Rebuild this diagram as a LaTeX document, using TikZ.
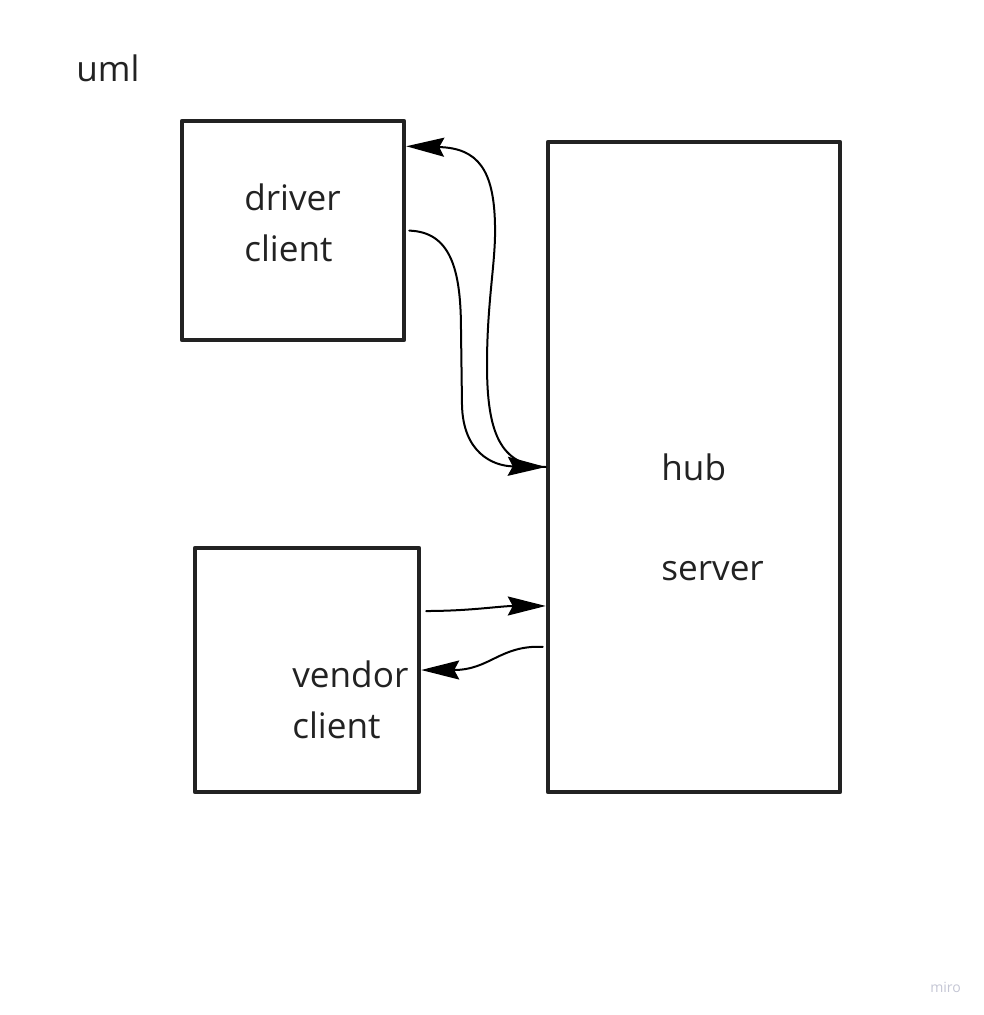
\documentclass[tikz,border=0pt]{standalone}
\usepackage{fontspec}
\setmainfont{Open Sans}
\usepackage{xcolor}
\usepackage{tikz}
\usetikzlibrary{arrows.meta}
\definecolor{inkgray}{RGB}{34,34,34}
\definecolor{mirogray}{RGB}{196,198,212}
\tikzset{
  every picture/.style={line join=round, line cap=round, >={Stealth[length=0.76cm,width=0.38cm,inset=0.1cm]}},
  box/.style={draw=inkgray, line width=0.09cm, inner sep=0pt},
  lbl/.style={text=inkgray, inner sep=0pt, font=\fontsize{20}{29.5}\selectfont, align=left},
  conn/.style={->, line width=0.04cm},
}

\begin{document}
\begin{tikzpicture}[x=0.02cm,y=-0.02cm]
\useasboundingbox(0,0)rectangle(984,1015);
\node[box,minimum width=4.44cm,minimum height=4.38cm](driver)at(293,230.5){};
\node[box,minimum width=5.84cm,minimum height=13cm](hub)at(694,467){};
\node[box,minimum width=4.48cm,minimum height=4.88cm](vendor)at(307,670){};
\node[lbl,anchor=base west](uml)at(76,81){uml};
\node[lbl,anchor=north west](drivertext)at(244,183){driver\\client};
\node[lbl,anchor=base west](hubtext)at(661,480){hub};
\node[lbl,anchor=base west](servertext)at(661,580){server};
\node[lbl,anchor=north west](vendortext)at(292,660){vendor\\client};
\node[text=mirogray,inner sep=0pt,anchor=base west,font=\fontsize{8}{10}\selectfont](miro)at(930,992){miro};
\draw[conn,shorten <=0.06cm](driver.east)..controls(450,232)and(461,268)..(461,330)
--(462,405)..controls(463,452)and(492,466)..(hub.west);
\draw[conn](hub.west)..controls(500,466)and(487,432)..(487,365)
..controls(487,300)and(496,262)..(495,225)
..controls(494,170)and(478,148)..([yshift=-0.55cm]driver.north east);
\draw[conn,shorten <=0.1cm]([yshift=1.18cm]vendor.east)..controls(470,611)and(500,606)..([yshift=-2.78cm]hub.west);
\draw[conn,shorten <=0.06cm]([yshift=-3.6cm]hub.west)..controls(500,645)and(490,670)..(vendor.east);
\end{tikzpicture}
\end{document}
